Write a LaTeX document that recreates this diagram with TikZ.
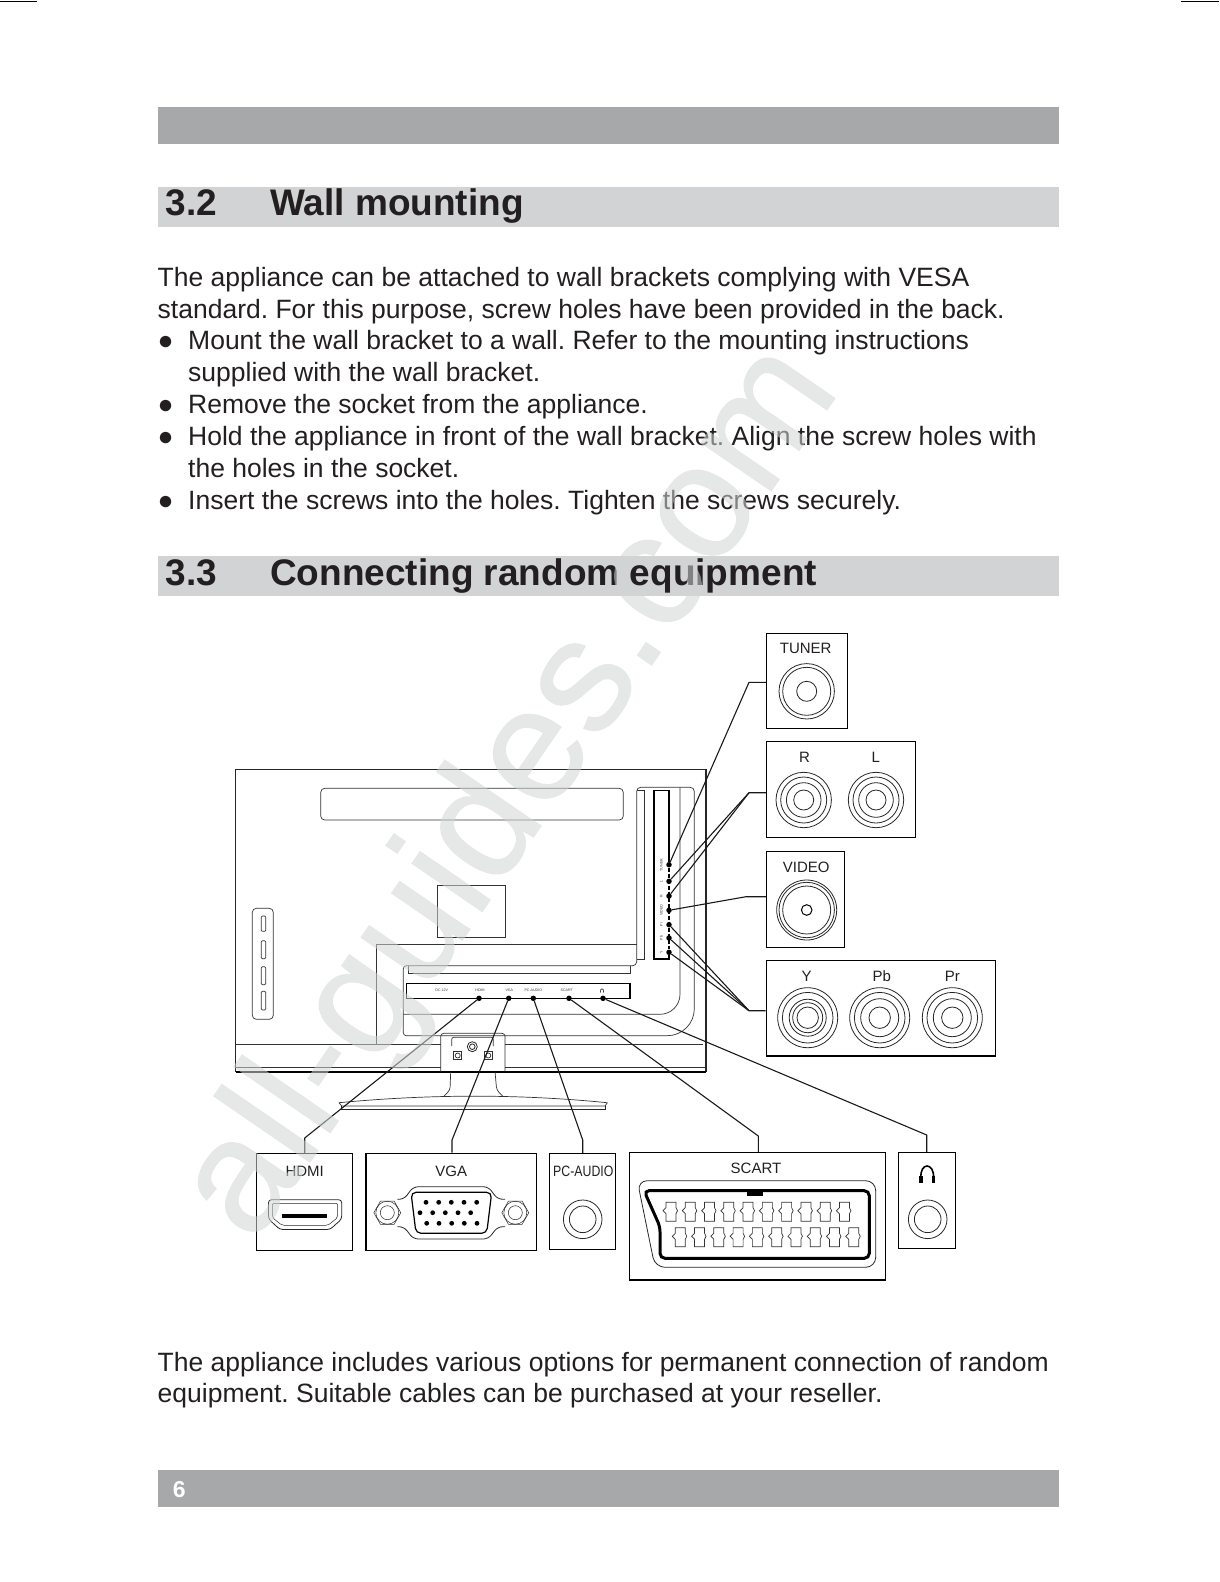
\documentclass[tikz,border=0pt]{standalone}
\usepackage{fontspec}
\setmainfont{Liberation Sans}
\newfontfamily\markfont[FakeBold=0.7]{Liberation Sans}
\usepackage{xcolor}
\usetikzlibrary{arrows.meta,calc,positioning}
\definecolor{bardark}{HTML}{A7A8AA}
\definecolor{barlight}{HTML}{D1D3D4}
\definecolor{inkdark}{HTML}{231F20}
\newcommand{\jack}[3]{\foreach \r in {#3} \draw[jackline] (#1,#2) circle (\r pt);}
\frenchspacing
\begin{document}
\begin{tikzpicture}[x=1pt,y=-1pt,
  bodytext/.style={anchor=base west,inner sep=0pt,text=inkdark,font=\fontsize{26.5}{30}\selectfont},
  headtext/.style={anchor=base west,inner sep=0pt,text=inkdark,font=\fontsize{37}{40}\selectfont\bfseries},
  tvline/.style={line width=0.7pt,black!80},
  jackline/.style={line width=0.8pt,black!85},
  portbox/.style={draw=black,line width=1pt,inner sep=0pt},
  portname/.style={inner sep=0pt,text height=11pt,text depth=0pt,text=inkdark,font=\fontsize{15}{17}\selectfont},
  tiny/.style={inner sep=0pt,text=black!80,font=\fontsize{3.6}{4}\selectfont},
  portdot/.style={circle,fill=black,inner sep=0pt,minimum size=5.5pt},
  wire/.style={line width=1.1pt,black!90,line join=round}]
\useasboundingbox (0,0) rectangle (1219,1582);

\draw[line width=0.8pt] (0,1.5)--(37,1.5);
\draw[line width=0.8pt] (1181,1.5)--(1219,1.5);
\fill[bardark] (157.5,107) rectangle (1059,143.5);
\fill[barlight] (157.5,187.3) rectangle (1059,226.7);
\fill[barlight] (157.5,556) rectangle (1059,596);
\fill[bardark] (157.5,1470) rectangle (1059,1506.7);

\node[headtext] (num32) at (165.5,215.5) {3.2};
\node[headtext] (head32) at (270,215.5) {Wall mounting};
\node[bodytext] (line1) at (157.5,286) {The appliance can be attached to wall brackets complying with VESA};
\node[bodytext] (line2) at (157.5,318) {standard. For this purpose, screw holes have been provided in the back.};
\node[bodytext] (bul1) at (157.5,349) {●};
\node[bodytext] (line3) at (188,349) {Mount the wall bracket to a wall. Refer to the mounting instructions};
\node[bodytext] (line4) at (188,381) {supplied with the wall bracket.};
\node[bodytext] (bul2) at (157.5,413) {●};
\node[bodytext] (line5) at (188,413) {Remove the socket from the appliance.};
\node[bodytext] (bul3) at (157.5,445) {●};
\node[bodytext] (line6) at (188,445) {Hold the appliance in front of the wall bracket. Align the screw holes with};
\node[bodytext] (line7) at (188,477) {the holes in the socket.};
\node[bodytext] (bul4) at (157.5,509) {●};
\node[bodytext] (line8) at (188,509) {Insert the screws into the holes. Tighten the screws securely.};
\node[headtext] (num33) at (165.5,585) {3.3};
\node[headtext] (head33) at (270,585) {Connecting random equipment};
\node[bodytext] (line9) at (157.5,1371) {The appliance includes various options for permanent connection of random};
\node[bodytext] (line10) at (157.5,1402) {equipment. Suitable cables can be purchased at your reseller.};
\node[anchor=base,inner sep=0pt,text=white,font=\fontsize{23}{25}\selectfont\bfseries] (pageno) at (179.3,1497) {6};

\draw[line width=1.1pt,black!85] (235.7,769.3) rectangle (706,1071.7);
\draw[line width=1.6pt] (235.7,1071.7)--(706,1071.7);
\draw[tvline,rounded corners=4pt] (320.7,788.3) rectangle (623.3,820);
\draw[tvline] (437.7,885) rectangle (505.7,937);
\draw[tvline,rounded corners=4pt] (252.3,908.3) rectangle (273.3,1019.3);
\foreach \a/\b in {916/931.3,940.7/958.7,966.7/984.7,991.3/1010}
  \draw[tvline,rounded corners=1pt] (261.3,\a) rectangle (265.7,\b);
\draw[tvline] (376.3,1044)--(376.3,944.7)--(636.7,944.7);
\draw[tvline,rounded corners=3pt] (636.7,965.7)--(403.3,965.7)--(403.3,1035.7)[rounded corners=27pt]--(694.3,1035.7)[rounded corners=4pt]--(694.3,787.3)--(636.7,787.3)--cycle;
\draw[tvline,rounded corners=20pt] (680,787.3)--(680,1014.3)--(403.3,1014.3);
\draw[tvline] (636.7,790.7)--(644,790.7)--(644,959)--(636.7,959);
\draw[tvline] (408.3,965.7)--(408.3,973.3)--(630,973.3)--(630,965.7);
\draw[tvline] (235.7,1044)--(440.7,1044) (505,1044)--(703,1044);
\draw[tvline] (235.7,1067.3)--(440.7,1067.3) (505,1067.3)--(706,1067.3);
\draw[tvline,rounded corners=3pt] (440.7,1071.7)--(440.7,1033.3)--(505,1033.3)--(505,1071.7);
\draw[tvline,rounded corners=2pt] (451.7,1046)--(451.7,1037.3)--(493.3,1037.3)--(493.3,1046);
\jack{472.3}{1046.7}{5,2.8}
\foreach \x in {457.7,488.3}{
  \draw[tvline] (\x-4,1051.5) rectangle (\x+4,1059.5);
  \draw[tvline] (\x,1055.5) circle (2.5pt);
}
\draw[tvline,rounded corners=3pt] (450.7,1071.7)--(450,1090)--(444,1096);
\draw[tvline,rounded corners=3pt] (495,1071.7)--(496.7,1090)--(502.7,1096);
\draw[tvline] (339,1102.7) .. controls (430,1094) and (520,1094) .. (607.3,1102.7);
\draw[tvline] (339,1102.7)--(341.7,1106)--(605,1106)--(607.3,1102.7);
\draw[line width=1pt,black!85] (341.7,1106)--(341.7,1109.3)--(605,1109.3)--(605,1106);

\foreach \n/\y in {dtuner/864.7,dleft/881.3,dright/896,dvideo/910.3,dpr/924.7,dpb/938,dy/952.3}
  \node[portdot] (\n) at (669,\y) {};
\draw[line width=1.5pt] (dtuner)--(669,790.7)--(654,790.7)--(654,959)--(669,959)--(dy);
\draw[line width=1.5pt] (406.7,983.3) rectangle (630,998.3);
\draw[line width=1.6pt,dash pattern=on 4pt off 2pt] (dtuner)--(dy);
\foreach \n/\x in {dhdmi/479,dvga/508.7,dpc/533.3,dscart/569,dphone/603}
  \node[portdot] (\n) at (\x,998.3) {};
\foreach \t/\y/\n in {TUNER/865/ltuner,L/881/lleft,R/896/lright,VIDEO/910/lvideo,Pr/924.5/lpr,Pb/938/lpb,Y/952/ly}
  \node[tiny,rotate=90] (\n) at (661.3,\y) {\t};
\foreach \t/\x/\n in {DC 12V/441.7/ldc,HDMI/480/lhdmi,VGA/509.3/lvga,PC-AUDIO/533.3/lpc,SCART/566.7/lscart}
  \node[tiny] (\n) at (\x,990.7) {\t};
\draw[line width=0.5pt] (600.3,992.5) .. controls (600,987.5) and (604,987.5) .. (603.7,992.5);

\node[portbox,minimum width=81pt,minimum height=95pt] (tuner) at (806.8,680.8) {};
\node[portbox,minimum width=149pt,minimum height=95.6pt] (rl) at (840.8,789.5) {};
\node[portbox,minimum width=78pt,minimum height=96pt] (video) at (805.3,899.3) {};
\node[portbox,line width=1.4pt,minimum width=229pt,minimum height=95.3pt] (ypbpr) at (880.8,1008.3) {};
\node[portbox,minimum width=96pt,minimum height=96.7pt] (hdmi) at (304.3,1201.7) {};
\node[portbox,line width=1.3pt,minimum width=170.3pt,minimum height=97pt] (vga) at (451.2,1201.7) {};
\node[portbox,minimum width=66pt,minimum height=96pt] (pcaudio) at (582.3,1201.3) {};
\node[portbox,line width=1.4pt,minimum width=256.4pt,minimum height=127.3pt] (scart) at (757.5,1216.3) {};
\node[portbox,minimum width=57pt,minimum height=95.6pt] (phone) at (926.8,1200.5) {};

\node[portname] (ntuner) at (805.7,648.2) {TUNER};
\node[portname] (nr) at (804.5,757) {R};
\node[portname] (nl) at (875.7,757) {L};
\node[portname] (nvideo) at (806.3,867) {VIDEO};
\node[portname] (ny) at (806.7,976.3) {Y};
\node[portname] (npb) at (881.7,976.3) {Pb};
\node[portname] (npr) at (952.3,976.3) {Pr};
\node[portname] (nhdmi) at (304.7,1171.2) {HDMI};
\node[portname] (nvga) at (451.3,1171.2) {VGA};
\node[portname] (npc) at (583.3,1171.2) {\scalebox{.82}[1]{PC-AUDIO}};
\node[portname] (nscart) at (756,1168.2) {SCART};

\jack{806.7}{691.3}{27.7,24,10}
\jack{803.7}{800}{27.7,23,17.3,10}
\jack{876}{800}{27.7,23,17.3,10}
\jack{806.7}{910}{30,27.7,24}
\draw[line width=1pt] (806.7,910) circle (5.3pt);
\jack{807.7}{1017.7}{30,25.3,18.5,15,10.7}
\jack{879.7}{1017.7}{30,25.3,19,10.7}
\jack{952.3}{1017.7}{30,25.3,19,10.7}
\jack{582.7}{1219.3}{19.3,13.3}
\jack{927.7}{1219.3}{19.3,13.3}

\coordinate (etuner) at (749,682.3);
\coordinate (erl) at (749,792.7);
\coordinate (evideo) at (746,896.7);
\coordinate (eypbpr) at (749,1010.7);
\coordinate (ehdmi) at (304.7,1138);
\coordinate (evga) at (452,1140);
\coordinate (epc) at (582.7,1140);
\coordinate (escart) at (758.3,1136);
\coordinate (ephone) at (926.7,1135);
\draw[wire] (dtuner)--(etuner)--(tuner.west |- etuner);
\draw[wire] (dleft)--(erl)--(rl.west |- erl);
\draw[wire] (dright)--(erl);
\draw[wire] (dvideo)--(evideo)--(video.west |- evideo);
\draw[wire] (dpr)--(eypbpr)--(ypbpr.west |- eypbpr);
\draw[wire] (dpb)--(eypbpr);
\draw[wire] (dy)--(eypbpr);
\draw[wire] (dhdmi)--(ehdmi)--(hdmi.north -| ehdmi);
\draw[wire] (dvga)--(evga)--(vga.north -| evga);
\draw[wire] (dpc)--(epc)--(pcaudio.north -| epc);
\draw[wire] (dscart)--(escart)--(scart.north -| escart);
\draw[wire] (dphone)--(ephone)--(phone.north -| ephone);

\draw[jackline,rounded corners=3pt] (268.5,1199.7)--(341.7,1199.7)--(341.7,1219)--(330,1229.5)--(280,1229.5)--(268.5,1219)--cycle;
\draw[jackline,line width=0.5pt,rounded corners=2pt] (272.3,1203.3)--(337.7,1203.3)--(337.7,1217.5)--(328,1225.3)--(282,1225.3)--(272.3,1217.5)--cycle;
\fill[black] (282,1214) rectangle (327,1218);

\draw[line width=1.2pt,rounded corners=5pt] (411,1192.3)--(491.7,1192.3)--(486.7,1233.3)--(416,1233.3)--cycle;
\draw[jackline,rounded corners=5pt] (397.3,1199.3)--(404,1199.3)--(413.3,1186.7)--(488.3,1186.7)--(497.7,1199.3)--(505,1199.3);
\draw[jackline,rounded corners=5pt] (397.3,1226.7)--(404,1226.7)--(413.3,1239)--(488.3,1239)--(497.7,1226.7)--(505,1226.7);
\foreach \x in {387.3,515.3}{
  \draw[jackline,line width=0.5pt] (\x,1212.7)+(0:13.5pt)--+(60:13.5pt)--+(120:13.5pt)--+(180:13.5pt)--+(240:13.5pt)--+(300:13.5pt)--cycle;
  \draw[jackline,line width=0.5pt] (\x,1212.7) circle (11.5pt);
  \draw[jackline,line width=0.5pt] (\x,1212.7) circle (7pt);
}
\foreach \x in {426,438.7,451.3,464,476.7} \fill (\x,1202.3) circle (2.4pt);
\foreach \x in {420,432.7,445.3,458,470.7} \fill (\x,1212.7) circle (2.4pt);
\foreach \x in {426.7,439,451.7,464.3,477} \fill (\x,1223.3) circle (2.4pt);

\draw[jackline,rounded corners=10pt] (637.3,1180.7)--(875.7,1180.7)--(875.7,1267.3)--(655,1267.3)--cycle;
\draw[line width=3pt,rounded corners=5pt] (644,1190.7)--(869.3,1190.7)--(869.3,1258.3)--(660,1258.3)--(660,1226.7)--cycle;
\fill (746.7,1191) rectangle (763.3,1196);
\foreach \i in {0,...,9}{
  \draw[tvline,shift={(670+19.27*\i,1211.7)}] (-4,-9.5)--(6,-9.5)--(6,-4)--(7.5,-1)--(6,2)--(6,9.5)--(-4,9.5)--(-4,2)--(-7,-1)--(-4,-4)--cycle;
  \draw[tvline,shift={(679.3+19.27*\i,1237.3)}] (-4,-9.5)--(6,-9.5)--(6,-4)--(7.5,-1)--(6,2)--(6,9.5)--(-4,9.5)--(-4,2)--(-7,-1)--(-4,-4)--cycle;
}
\draw[line width=1.6pt] (921,1178) .. controls (919.5,1162) and (934.5,1162) .. (933.5,1178);
\fill (919.3,1176) rectangle (922.5,1183.3);
\fill (932.2,1176) rectangle (935.4,1183.3);

\begin{scope}[transparency group,opacity=.55]
\node[anchor=base west,inner sep=0pt,rotate=55.5,text=barlight,font=\fontsize{161}{170}\markfont] (mark) at (253,1245) {all-guides.com};
\end{scope}
\end{tikzpicture}
\end{document}
